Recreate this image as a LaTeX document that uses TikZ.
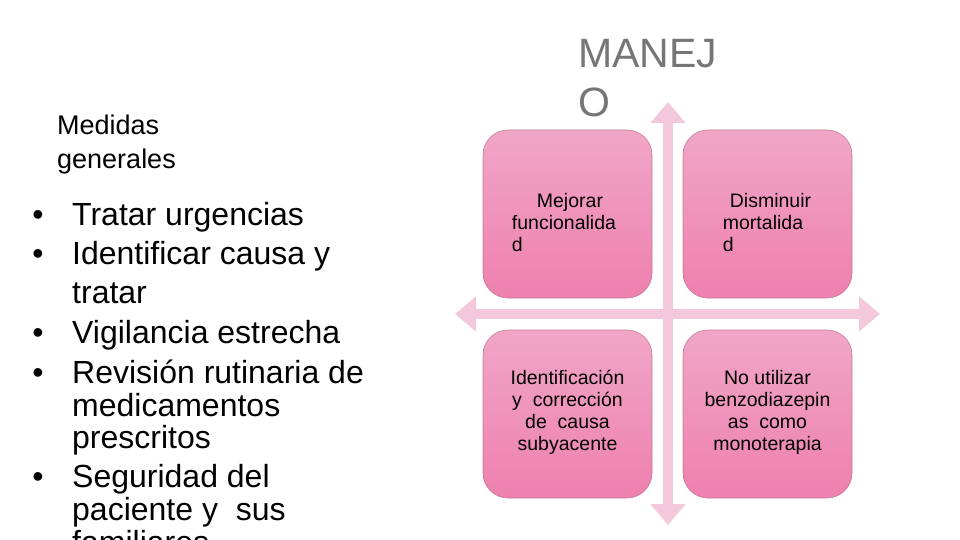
\documentclass[tikz,border=0pt]{standalone}
\usepackage{fontspec}
\setmainfont{Liberation Sans}
\usepackage{tikz}
\usetikzlibrary{arrows.meta, calc}

\definecolor{crosspink}{RGB}{242,200,218}
\definecolor{quadtop}{RGB}{241,166,199}
\definecolor{quadbot}{RGB}{238,128,174}
\definecolor{quadline}{RGB}{196,124,156}
\definecolor{titlegray}{RGB}{118,118,118}

\begin{document}
\begin{tikzpicture}[x=1pt, y=-1pt,
    quad/.style={rectangle, rounded corners=25pt, minimum width=169pt, minimum height=168pt,
        inner sep=0pt, draw=quadline, line width=0.6pt, top color=quadtop, bottom color=quadbot},
    quadtxt/.style={inner sep=0pt, font=\fontsize{19.5}{22}\selectfont},
    listtxt/.style={anchor=base west, inner sep=0pt, font=\fontsize{32}{40}\selectfont},
    cross/.style={crosspink, line width=10pt, {Triangle[width=34pt, length=21pt]}-{Triangle[width=34pt, length=21pt]}}]
    \fill[white] (0,0) rectangle (960,540);
    \useasboundingbox (0,0) rectangle (960,540);
    \clip (0,0) rectangle (960,540);

    \node[anchor=base west, inner sep=0pt, align=left, font=\fontsize{27}{33}\selectfont] (medidas) at (57,168) {Medidas\\generales};
    \foreach \yy/\txt in {225/Tratar urgencias, 264/Identificar causa y, 303/tratar, 343/Vigilancia estrecha,
        383/Revisión rutinaria de, 416/medicamentos, 448/prescritos, 487/Seguridad del,
        520/paciente y\ \ sus, 553/familiares}
        \node[listtxt] (line\yy) at (72,\yy) {\txt};
    \foreach \yy in {225,264,343,383,487}
        \node[anchor=base, inner sep=0pt, font=\fontsize{32}{40}\selectfont] (dot\yy) at (38,\yy) {•};

    \node[anchor=base west, inner sep=0pt, align=left, text=titlegray, font=\fontsize{41}{49}\selectfont] (manejo) at (578,117) {MANEJ\\O};

    \coordinate (up) at (668,102);
    \coordinate (down) at (668,525);
    \coordinate (left) at (455,314);
    \coordinate (right) at (880,314);
    \draw[cross] (down) -- (up);
    \draw[cross] (left) -- (right);

    \node[quad] (tl) at (567.5,214) {};
    \node[quad] (tr) at (767.5,214) {};
    \node[quad] (bl) at (567.5,414) {};
    \node[quad] (br) at (767.5,414) {};

    \node[quadtxt, anchor=base west, align=left] (tltxt) at ($(tl.west)+(29,37)$) {\hspace*{25pt}Mejorar\\funcionalida\\d};
    \node[quadtxt, anchor=base west, align=left] (trtxt) at ($(tr.west)+(40,37)$) {\hspace*{7pt}Disminuir\\mortalida\\d};
    \node[quadtxt, anchor=base, align=center] (bltxt) at ($(bl.center)+(0,36)$) {Identificación\\y\ \ corrección\\de\ \ causa\\subyacente};
    \node[quadtxt, anchor=base, align=center] (brtxt) at ($(br.center)+(0,36)$) {No utilizar\\benzodiazepin\\as\ \ como\\monoterapia};
\end{tikzpicture}
\end{document}
